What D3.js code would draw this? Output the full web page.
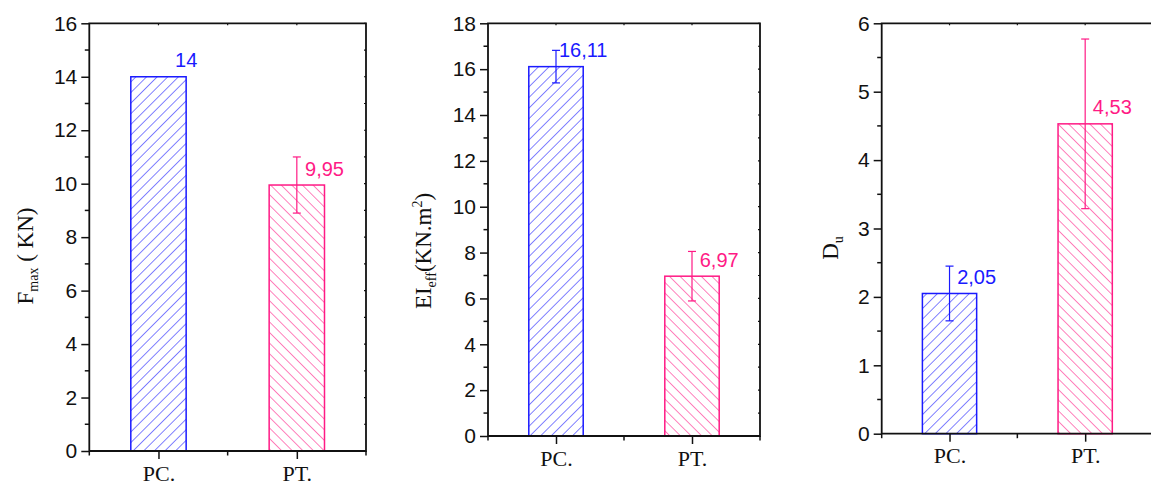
<!DOCTYPE html>
<html><head><meta charset="utf-8">
<script src="https://cdn.jsdelivr.net/npm/d3@7"></script>
<style>body{margin:0;background:#fff}svg{display:block}</style>
</head><body>
<script>
// ---- data ----
const categories = ["PC.", "PT."];
const fmaxValues = [14, 9.95];
const fmaxErrors = [null, 1.05];
const fmaxLabels = ["14", "9,95"];
const fmaxTicks = [0, 2, 4, 6, 8, 10, 12, 14, 16];

const eiValues = [16.11, 6.97];
const eiErrors = [0.71, 1.08];
const eiLabels = ["16,11", "6,97"];
const eiTicks = [0, 2, 4, 6, 8, 10, 12, 14, 16, 18];

const duValues = [2.05, 4.53];
const duErrors = [0.40, 1.24];
const duLabels = ["2,05", "4,53"];
const duTicks = [0, 1, 2, 3, 4, 5, 6];

const colors = ["#1a1aff", "#ff1a85"];

const W = 1151, H = 487;
const svg = d3.select("body").append("svg").attr("width", W).attr("height", H);
const defs = svg.append("defs");
function hatch(id, color, angle) {
  const p = defs.append("pattern").attr("id", id).attr("patternUnits", "userSpaceOnUse")
    .attr("width", 7.5).attr("height", 7.5).attr("patternTransform", `rotate(${angle})`);
  p.append("line").attr("x1", 0).attr("y1", -1).attr("x2", 0).attr("y2", 9)
    .attr("stroke", color).attr("stroke-width", 1.1);
}
hatch("hatchPC", colors[0], 45);
hatch("hatchPT", colors[1], -45);
const patterns = ["url(#hatchPC)", "url(#hatchPT)"];

const panels = [
  {left: 89.3, right: 366, top: 23.3, bottom: 451, max: 16, minorStep: 1, ticks: fmaxTicks,
   values: fmaxValues, errors: fmaxErrors, labels: fmaxLabels,
   ylab: {x: 33, y: 256, parts: [["F", 0], ["max", 1], [" ( KN)", 0]]}},
  {left: 488, right: 760, top: 23.3, bottom: 436, max: 18, minorStep: 1, ticks: eiTicks,
   values: eiValues, errors: eiErrors, labels: eiLabels,
   ylab: {x: 431, y: 251, parts: [["EI", 0], ["eff", 1], ["(KN.m", 0], ["2", 2], [")", 0]]}},
  {left: 881.7, right: 1153, top: 23.3, bottom: 433.7, max: 6, minorStep: 0.5, ticks: duTicks,
   values: duValues, errors: duErrors, labels: duLabels,
   ylab: {x: 838, y: 248, parts: [["D", 0], ["u", 1]]}}
];

panels.forEach(P => {
  const g = svg.append("g");
  const x = d3.scaleLinear().domain([0.5, 2.5]).range([P.left, P.right]);
  const y = d3.scaleLinear().domain([0, P.max]).range([P.bottom, P.top]);
  const bw = x(1.2) - x(1);

  // bars
  categories.forEach((c, i) => {
    const cx = x(i + 1);
    g.append("rect").attr("x", cx - bw).attr("width", 2 * bw)
      .attr("y", y(P.values[i])).attr("height", y(0) - y(P.values[i]))
      .attr("fill", "#fff");
    g.append("rect").attr("x", cx - bw).attr("width", 2 * bw)
      .attr("y", y(P.values[i])).attr("height", y(0) - y(P.values[i]))
      .attr("fill", patterns[i]).attr("stroke", colors[i]).attr("stroke-width", 1.5);
    if (P.errors[i] != null) {
      const e = P.errors[i];
      g.append("line").attr("x1", cx).attr("x2", cx)
        .attr("y1", y(P.values[i] + e)).attr("y2", y(P.values[i] - e))
        .attr("stroke", colors[i]).attr("stroke-width", 1.2);
      [P.values[i] + e, P.values[i] - e].forEach(v => {
        g.append("line").attr("x1", cx - 4).attr("x2", cx + 4)
          .attr("y1", y(v)).attr("y2", y(v))
          .attr("stroke", colors[i]).attr("stroke-width", 1.2);
      });
    }
    g.append("text").attr("x", cx + bw).attr("y", y(P.values[i]) - 9.5)
      .attr("text-anchor", "middle").attr("font-family", "Liberation Sans, Arial, sans-serif")
      .attr("font-size", 20).attr("fill", colors[i]).text(P.labels[i]);
  });

  // left axis
  const yAxis = d3.axisLeft(y).tickValues(P.ticks).tickFormat(d3.format("d")).tickSize(8).tickPadding(4);
  const ga = g.append("g").attr("transform", `translate(${P.left},0)`).call(yAxis);
  ga.select(".domain").remove();
  ga.selectAll("line").attr("stroke", "#111").attr("stroke-width", 1.5);
  ga.selectAll("text").attr("font-family", "Liberation Sans, Arial, sans-serif")
    .attr("font-size", 21).attr("fill", "#111");
  const minors = d3.range(0, P.max + 1e-9, P.minorStep).filter(v => !P.ticks.includes(v));
  minors.forEach(v => {
    g.append("line").attr("x1", P.left - 4.5).attr("x2", P.left).attr("y1", y(v)).attr("y2", y(v))
      .attr("stroke", "#111").attr("stroke-width", 1.5);
  });
  // right axis small ticks
  d3.range(0, P.max + 1e-9, P.minorStep).forEach(v => {
    g.append("line").attr("x1", P.right - 2).attr("x2", P.right).attr("y1", y(v)).attr("y2", y(v))
      .attr("stroke", "#111").attr("stroke-width", 1.2);
  });

  // bottom axis
  const xAxis = d3.axisBottom(x).tickValues([1, 2]).tickFormat((d, i) => categories[i])
    .tickSize(8).tickPadding(6);
  const gx = g.append("g").attr("transform", `translate(0,${P.bottom})`).call(xAxis);
  gx.select(".domain").remove();
  gx.selectAll("line").attr("stroke", "#111").attr("stroke-width", 1.5);
  gx.selectAll("text").attr("font-family", "Liberation Serif, Times New Roman, serif")
    .attr("font-size", 22).attr("fill", "#111");
  [0.5, 1.5, 2.5].forEach(v => {
    g.append("line").attr("x1", x(v)).attr("x2", x(v)).attr("y1", P.bottom).attr("y2", P.bottom + 4.5)
      .attr("stroke", "#111").attr("stroke-width", 1.5);
  });
  // top small ticks
  [1, 1.5, 2].forEach(v => {
    g.append("line").attr("x1", x(v)).attr("x2", x(v)).attr("y1", P.top).attr("y2", P.top + 2)
      .attr("stroke", "#111").attr("stroke-width", 1.2);
  });

  // frame
  g.append("path").attr("d", `M${P.left},${P.top}V${P.bottom}H${P.right}V${P.top}Z`)
    .attr("fill", "none").attr("stroke", "#111").attr("stroke-width", 1.8);

  // y label
  const t = g.append("text").attr("transform", `translate(${P.ylab.x},${P.ylab.y}) rotate(-90)`)
    .attr("text-anchor", "middle").attr("font-family", "Liberation Serif, Times New Roman, serif")
    .attr("font-size", 23).attr("fill", "#111");
  P.ylab.parts.forEach(([s, k]) => {
    const ts = t.append("tspan").text(s);
    if (k === 1) ts.attr("font-size", 14).attr("baseline-shift", "-5");
    if (k === 2) ts.attr("font-size", 14).attr("baseline-shift", "9");
  });
});
</script>
</body></html>
